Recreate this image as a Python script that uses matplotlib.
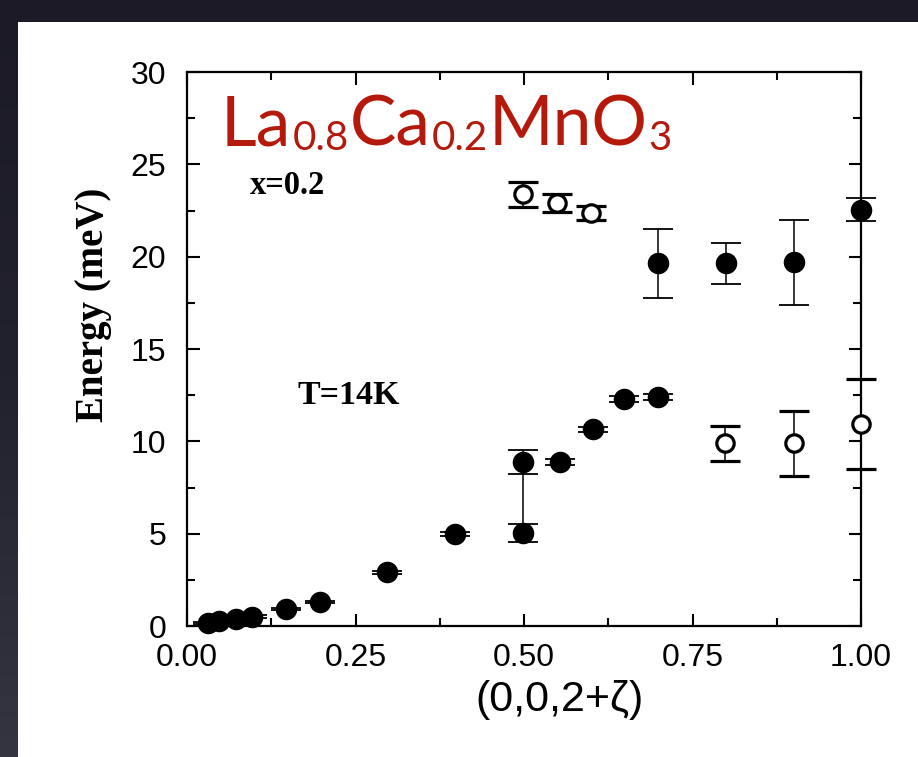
import numpy as np
import matplotlib
matplotlib.use("Agg")
import matplotlib.pyplot as plt
from matplotlib.patches import Rectangle
from matplotlib.ticker import MultipleLocator
from matplotlib.colors import LinearSegmentedColormap

# ---------------- data ----------------
filled_x = [0.031, 0.048, 0.072, 0.097, 0.147, 0.197, 0.297, 0.398, 0.499, 0.499,
            0.553, 0.602, 0.648, 0.699, 0.699, 0.800, 0.900, 1.000]
filled_y = [0.16, 0.27, 0.38, 0.49, 0.92, 1.30, 2.92, 4.98, 5.04, 8.88,
            8.88, 10.65, 12.30, 12.40, 19.65, 19.65, 19.71, 22.52]
filled_lo = [0.05, 0.05, 0.05, 0.08, 0.03, 0.03, 0.08, 0.12, 0.49, 0.65,
             0.15, 0.12, 0.15, 0.15, 1.89, 1.13, 2.33, 0.59]
filled_hi = [0.05, 0.05, 0.05, 0.08, 0.03, 0.03, 0.08, 0.12, 0.48, 0.65,
             0.15, 0.12, 0.15, 0.15, 1.84, 1.09, 2.27, 0.65]

open_x = [0.499, 0.549, 0.600, 0.798, 0.900, 1.000]
open_y = [23.39, 22.90, 22.36, 9.91, 9.91, 10.94]
open_lo = [0.70, 0.49, 0.38, 0.98, 1.79, 2.44]
open_hi = [0.65, 0.49, 0.38, 0.92, 1.73, 2.43]

# connector between the two zeta=0.5 error bars
link_x = [0.499]
link_lo = [5.52]
link_hi = [8.23]

x_ticks = [0.0, 0.25, 0.5, 0.75, 1.0]
x_ticklabels = ["0.00", "0.25", "0.50", "0.75", "1.00"]
y_ticks = [0, 5, 10, 15, 20, 25, 30]
y_ticklabels = ["0", "5", "10", "15", "20", "25", "30"]

W, H = 918, 757
fig = plt.figure(figsize=(W / 100, H / 100), dpi=100)

# dark slide background with a soft gradient
bg = fig.add_axes([0, 0, 1, 1])
bg.set_axis_off()
grad = np.linspace(0, 1, 256).reshape(-1, 1)
cm = LinearSegmentedColormap.from_list("bg", ["#1b1a26", "#22212e", "#353542"])
bg.imshow(grad, aspect="auto", cmap=cm, extent=[0, 1, 0, 1], origin="upper")
bg.set_xlim(0, 1)
bg.set_ylim(0, 1)
bg.add_patch(Rectangle((18 / W, 0), 1 - 18 / W, 1 - 22 / H, facecolor="white",
                       edgecolor="none", zorder=2))

x0, x1, y0, y1 = 187, 861, 72, 626
ax = fig.add_axes([x0 / W, 1 - y1 / H, (x1 - x0) / W, (y1 - y0) / H])
ax.set_facecolor("none")
ax.set_xlim(0, 1)
ax.set_ylim(0, 30)

elw = 1.1
ax.vlines(link_x, link_lo, link_hi, color="black", lw=elw, zorder=2)
c1 = ax.errorbar(filled_x, filled_y, yerr=[filled_lo, filled_hi], fmt="o", color="black",
                 ms=14.5, ecolor="black", elinewidth=elw, capsize=11, capthick=1.3, zorder=3)
c2 = ax.errorbar(open_x, open_y, yerr=[open_lo, open_hi], fmt="o", mfc="white", mec="black",
                 mew=2.3, ms=12.5, ecolor="black", elinewidth=elw, capsize=11, capthick=1.3,
                 zorder=3)
for cont in (c1, c2):
    for art in cont.lines[:1] + tuple(cont.lines[1]) + tuple(cont.lines[2]):
        art.set_clip_on(False)

ax.set_xticks(x_ticks)
ax.set_xticklabels(x_ticklabels)
ax.set_yticks(y_ticks)
ax.set_yticklabels(y_ticklabels)
ax.xaxis.set_minor_locator(MultipleLocator(0.125))
ax.yaxis.set_minor_locator(MultipleLocator(2.5))
tickfont = "Liberation Sans"
ax.tick_params(which="both", direction="in", top=True, right=True, width=1.5)
ax.tick_params(which="major", length=9)
ax.tick_params(which="minor", length=6)
ax.tick_params(axis="x", which="major", pad=12)
ax.tick_params(axis="y", which="major", pad=15)
for lab in ax.get_xticklabels() + ax.get_yticklabels():
    lab.set_fontfamily(tickfont)
    lab.set_fontsize(23)
for s in ax.spines.values():
    s.set_linewidth(1.6)

ax.text(0.553, -0.134, "(0,0,2+ζ)", transform=ax.transAxes, ha="center", va="center",
        fontsize=31, family=tickfont)
ax.text(-0.138, 0.58, "Energy (meV)", transform=ax.transAxes, ha="center", va="center",
        rotation=90, fontsize=28, family="Liberation Serif", weight="bold")
ax.text((250 - x0) / (x1 - x0), (y1 - 185) / (y1 - y0), "x=0.2", transform=ax.transAxes,
        ha="left", va="center", fontsize=23.5, family="Liberation Serif", weight="bold")
ax.text((297 - x0) / (x1 - x0), (y1 - 395) / (y1 - y0), "T=14K", transform=ax.transAxes,
        ha="left", va="center", fontsize=24.5, family="Liberation Serif", weight="bold")

# title: La0.8Ca0.2MnO3 laid out piece by piece (pixel coordinates)
red = "#b5190b"
pieces = [("La", False), ("0.8", True), ("Ca", False), ("0.2", True), ("MnO", False), ("3", True)]
fig.canvas.draw()
r = fig.canvas.get_renderer()
xcur = 221
base = H - 145
for txt, sub in pieces:
    t = fig.text(xcur / W, (base - (5 if sub else 0)) / H, txt, ha="left", va="baseline",
                 fontsize=29 if sub else 50, family="Lato", color=red)
    bb = t.get_window_extent(renderer=r)
    xcur = bb.x1 + 1

fig.savefig("out.png", dpi=100)
